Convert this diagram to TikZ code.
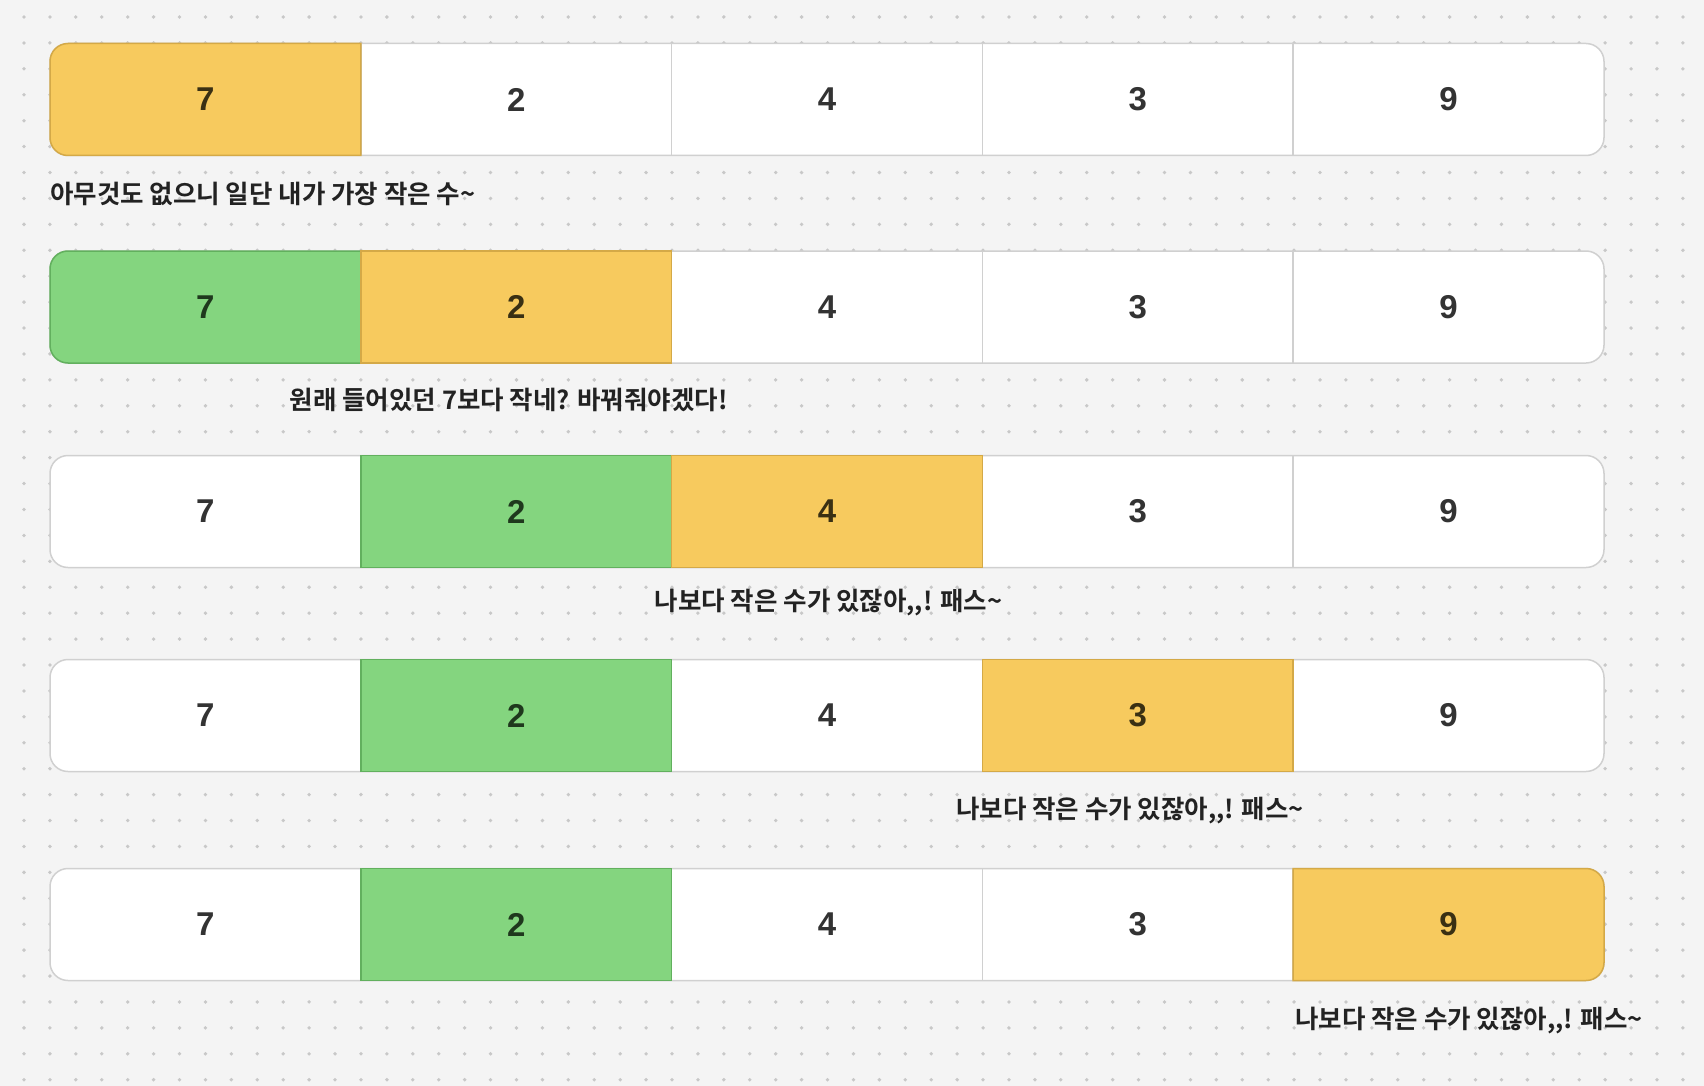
\documentclass[tikz,border=0pt]{standalone}
\usepackage{fontspec}
\setmainfont{Liberation Sans}
\newfontfamily\cjk{Noto Sans CJK KR}[BoldFont={Noto Sans CJK KR Bold}]
\definecolor{bgc}{HTML}{F4F4F4}
\definecolor{dotc}{HTML}{C8C8C8}
\definecolor{cellline}{HTML}{D0D0D0}
\definecolor{yellowf}{HTML}{F7CA5E}
\definecolor{yellowd}{HTML}{D4A947}
\definecolor{greenf}{HTML}{84D57F}
\definecolor{greend}{HTML}{62B05E}
\definecolor{numc}{HTML}{333333}
\definecolor{numy}{HTML}{3A3013}
\definecolor{numg}{HTML}{1F381D}
\definecolor{capc}{HTML}{222222}
\tikzset{
  gridline/.style={draw=cellline, line width=1.5pt},
  numtext/.style={font=\bfseries\fontsize{33}{33}\selectfont, inner sep=0pt},
  captext/.style={font=\cjk\bfseries\fontsize{25.5}{25.5}\selectfont, text=capc, inner sep=0pt, anchor=west},
}
% #1 colour name prefix, #2 cell index, #3 top, #4 bottom
\newcommand\hlcell[4]{%
  \pgfmathsetmacro\xa{50+310.8*(#2-1)}%
  \pgfmathsetmacro\xb{50+310.8*#2}%
  \ifcase#2\relax
  \or
    \draw[fill=#1f, draw=#1d, line width=1.5pt] (\xb,#3) -- (68,#3) arc[start angle=90,end angle=180,radius=18] -- (50,#4+18) arc[start angle=180,end angle=270,radius=18] -- (\xb,#4) -- cycle;
  \or \draw[fill=#1f, draw=#1d, line width=1.5pt] (\xa,#3) rectangle (\xb,#4);
  \or \draw[fill=#1f, draw=#1d, line width=1.5pt] (\xa,#3) rectangle (\xb,#4);
  \or \draw[fill=#1f, draw=#1d, line width=1.5pt] (\xa,#3) rectangle (\xb,#4);
  \or
    \draw[fill=#1f, draw=#1d, line width=1.5pt] (\xa,#3) -- (1586,#3) arc[start angle=90,end angle=0,radius=18] -- (1604,#4+18) arc[start angle=0,end angle=-90,radius=18] -- (\xa,#4) -- cycle;
  \fi}
% #1 row id, #2 top (px), #3 green cell, #4 yellow cell
\newcommand\barrow[4]{%
  \pgfmathsetmacro\T{-#2}%
  \pgfmathsetmacro\B{-#2-112}%
  \draw[gridline, fill=white, rounded corners=18pt] (50,\T) rectangle (1604,\B);
  \foreach \k in {1,2,3,4} \draw[gridline] ({50+310.8*\k},\T) -- ({50+310.8*\k},\B);
  \hlcell{green}{#3}{\T}{\B}%
  \hlcell{yellow}{#4}{\T}{\B}%
  \foreach \k/\v in {1/7,2/2,3/4,4/3,5/9}{%
    \ifnum\k=#3\relax\def\nc{numg}\else\ifnum\k=#4\relax\def\nc{numy}\else\def\nc{numc}\fi\fi
    \node[numtext, text=\nc] (r#1c\k) at ({50+310.8*(\k-0.5)},{-#2-56}) {\v};
  }}
\begin{document}
\begin{tikzpicture}[x=1pt,y=1pt]
\useasboundingbox (0,0) rectangle (1704,-1086);
\fill[bgc] (0,0) rectangle (1704,-1086);
\foreach \i in {0,...,65}{\foreach \j in {0,...,41}{\fill[dotc] ({24+25.92*\i},{-17-25.92*\j}) circle (1.9);}}
\barrow{1}{43.5}{0}{1}
\barrow{2}{251}{1}{2}
\barrow{3}{455.5}{2}{3}
\barrow{4}{659.5}{2}{4}
\barrow{5}{868.5}{2}{5}
\node[captext] (cap1) at (50,-194) {아무것도 없으니 일단 내가 가장 작은 수\textasciitilde};
\node[captext] (cap2) at (289.5,-400) {원래 들어있던 7보다 작네? 바꿔줘야겠다!};
\node[captext] (cap3) at (654.5,-603) {나보다 작은 수가 있잖아,,! 패스\textasciitilde};
\node[captext] (cap4) at (956,-811) {나보다 작은 수가 있잖아,,! 패스\textasciitilde};
\node[captext] (cap5) at (1295,-1021) {나보다 작은 수가 있잖아,,! 패스\textasciitilde};
\end{tikzpicture}
\end{document}
